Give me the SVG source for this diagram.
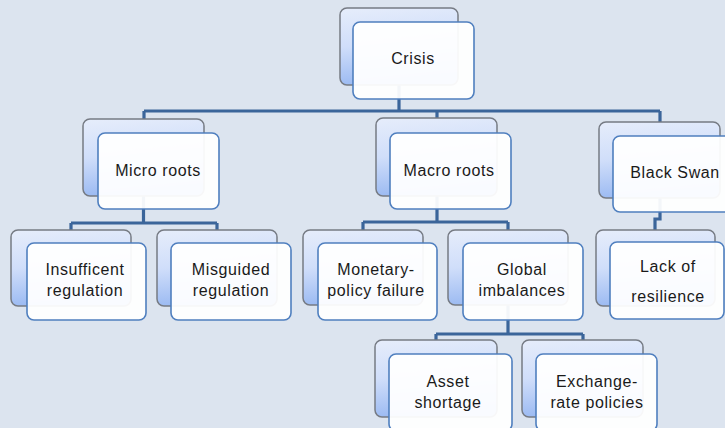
<svg xmlns="http://www.w3.org/2000/svg" width="725" height="428" viewBox="0 0 725 428">
<defs>
<linearGradient id="bg" x1="0" y1="0" x2="0.15" y2="1">
<stop offset="0" stop-color="#e6edfb"/>
<stop offset="0.5" stop-color="#d0defa"/>
<stop offset="1" stop-color="#9bbaf2"/>
</linearGradient>
<style>
.back{fill:url(#bg);stroke:#767b84;stroke-width:1.5}
.front{fill:#ffffff;fill-opacity:0.94;stroke:#4f7fbf;stroke-width:1.6}
.t{font-family:"Liberation Sans",Arial,sans-serif;font-size:16px;fill:#1a1a1a;text-anchor:middle;letter-spacing:0.6px}
.c{fill:none;stroke:#3b659a;stroke-width:3.2}
</style>
</defs>
<rect width="725" height="428" fill="#dce4ef"/>
<g id="connectors">
<path class="c" d="M399,85 V111 M144,111 H660 M144,111 V119 M437,111 V118 M660,111 V122"/>
<path class="c" d="M143.5,196 V223 M71,223 H217 M71,223 V230 M217,223 V230"/>
<path class="c" d="M437,196 V222 M363,222 H508 M363,222 V230 M508,222 V230"/>
<path class="c" d="M660,198 V219 H655 V230"/>
<path class="c" d="M508,305 V334 M436,334 H583 M436,334 V340 M583,334 V340"/>
</g>
<g id="crisis">
<rect class="back" x="340" y="8" width="118" height="77" rx="7"/>
<rect class="front" x="353" y="22" width="121" height="77" rx="7"/>
<text class="t" x="413" y="64">Crisis</text>
</g>
<g id="micro">
<rect class="back" x="83" y="119" width="121" height="77" rx="7"/>
<rect class="front" x="98" y="133" width="121" height="76" rx="7"/>
<text class="t" x="158" y="176">Micro roots</text>
</g>
<g id="macro">
<rect class="back" x="376" y="118" width="121" height="78" rx="7"/>
<rect class="front" x="390" y="133" width="121" height="76" rx="7"/>
<text class="t" x="449" y="176">Macro roots</text>
</g>
<g id="blackswan">
<rect class="back" x="599" y="122" width="121" height="76" rx="7"/>
<rect class="front" x="613" y="136" width="121" height="76" rx="7"/>
<text class="t" x="675" y="178">Black Swan</text>
</g>
<g id="insufficient">
<rect class="back" x="11" y="230" width="120" height="76" rx="7"/>
<rect class="front" x="27" y="243" width="119" height="77" rx="7"/>
<text class="t" x="85" y="275">Insufficent</text>
<text class="t" x="85" y="296">regulation</text>
</g>
<g id="misguided">
<rect class="back" x="157" y="230" width="120" height="76" rx="7"/>
<rect class="front" x="171" y="243" width="120" height="77" rx="7"/>
<text class="t" x="231" y="275">Misguided</text>
<text class="t" x="231" y="296">regulation</text>
</g>
<g id="monetary">
<rect class="back" x="303" y="230" width="120" height="75" rx="7"/>
<rect class="front" x="318" y="243" width="119" height="77" rx="7"/>
<text class="t" x="376" y="275">Monetary-</text>
<text class="t" x="376" y="296">policy failure</text>
</g>
<g id="global">
<rect class="back" x="448" y="230" width="120" height="75" rx="7"/>
<rect class="front" x="463" y="243" width="120" height="77" rx="7"/>
<text class="t" x="522" y="275">Global</text>
<text class="t" x="522" y="296">imbalances</text>
</g>
<g id="lack">
<rect class="back" x="596" y="230" width="119" height="76" rx="7"/>
<rect class="front" x="610" y="242" width="114" height="77" rx="7"/>
<text class="t" x="668" y="272">Lack of</text>
<text class="t" x="668" y="302">resilience</text>
</g>
<g id="asset">
<rect class="back" x="375" y="340" width="122" height="77" rx="7"/>
<rect class="front" x="389" y="354" width="123" height="77" rx="7"/>
<text class="t" x="448" y="387">Asset</text>
<text class="t" x="448" y="408">shortage</text>
</g>
<g id="exchange">
<rect class="back" x="522" y="340" width="121" height="77" rx="7"/>
<rect class="front" x="536" y="354" width="121" height="77" rx="7"/>
<text class="t" x="597" y="387">Exchange-</text>
<text class="t" x="597" y="408">rate policies</text>
</g>
</svg>
